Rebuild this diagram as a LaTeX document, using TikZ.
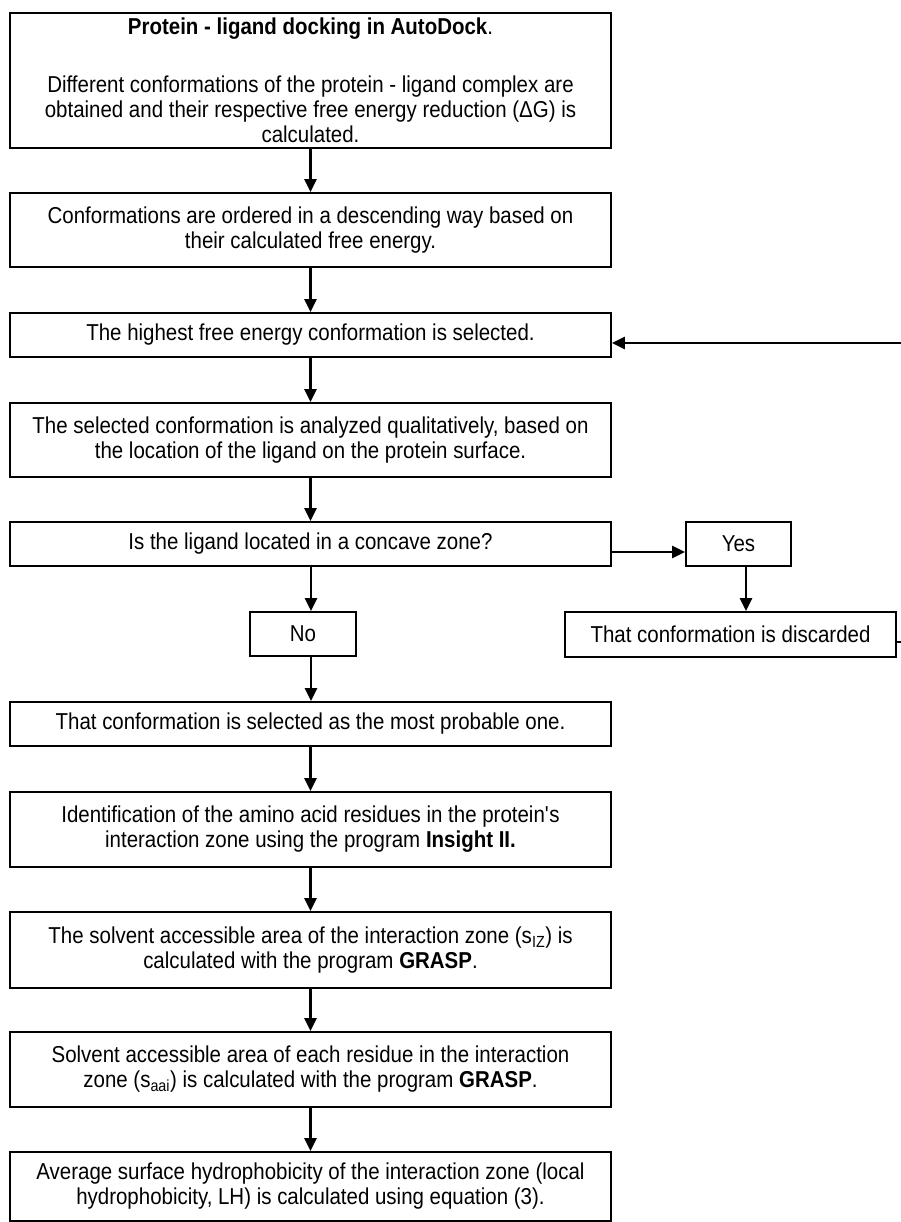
\documentclass[tikz,border=0pt]{standalone}
\usepackage{fontspec}
\setmainfont{Liberation Sans}[FakeStretch=0.89]
\usetikzlibrary{arrows.meta}
\begin{document}
\begin{tikzpicture}[x=1pt,y=-1pt,
  box/.style={draw, line width=1.8pt, align=center, inner sep=0pt,
    font=\fontsize{23}{25}\selectfont, minimum width=601pt},
  arr/.style={line width=2.8pt, -{Triangle[length=13pt,width=12pt]}}]
\useasboundingbox (0,0) rectangle (901,1222);
\fill[white] (0,0) rectangle (901,1222);
\coordinate (ax) at (311,0);
\coordinate (yy) at (0,552);
\coordinate (dx) at (746,0);
\coordinate (ly) at (0,343);
\coordinate (r1) at (908,642);
\coordinate (r2) at (908,343);

\node[box, minimum height=135pt] (b1) at (310.5,80.5)
  {\textbf{Protein - ligand docking in AutoDock}.\\[33pt]
   Different conformations of the protein - ligand complex are\\
   obtained and their respective free energy reduction (ΔG) is\\
   calculated.};
\node[box, minimum height=74pt] (b2) at (310.5,230)
  {Conformations are ordered in a descending way based on\\
   their calculated free energy.};
\node[box, minimum height=44pt] (b3) at (310.5,335)
  {The highest free energy conformation is selected.};
\node[box, minimum height=74pt] (b4) at (310.5,440)
  {The selected conformation is analyzed qualitatively, based on\\
   the location of the ligand on the protein surface.};
\node[box, minimum height=44pt] (b5) at (310.5,544)
  {Is the ligand located in a concave zone?};
\node[box, minimum width=105pt, minimum height=44pt] (yes) at (738.5,544) {Yes};
\node[box, minimum width=106pt, minimum height=44pt] (no) at (303,634) {No};
\node[box, minimum width=331pt, minimum height=45pt] (disc) at (730.5,634.5)
  {That conformation is discarded};
\node[box, minimum height=44pt] (b6) at (310.5,724)
  {That conformation is selected as the most probable one.};
\node[box, minimum height=75pt] (b7) at (310.5,829.5)
  {Identification of the amino acid residues in the protein\textquotesingle s\\
   interaction zone using the program \textbf{Insight II.}};
\node[box, minimum height=76pt] (b8) at (310.5,950)
  {The solvent accessible area of the interaction zone (s\textsubscript{IZ}) is\\
   calculated with the program \textbf{GRASP}.};
\node[box, minimum height=75pt] (b9) at (310.5,1069.5)
  {Solvent accessible area of each residue in the interaction\\
   zone (s\textsubscript{aai}) is calculated with the program \textbf{GRASP}.};
\node[box, minimum height=69pt] (b10) at (310.5,1186.5)
  {Average surface hydrophobicity of the interaction zone (local\\
   hydrophobicity, LH) is calculated using equation (3).};

\draw[arr] (b1.south) -- (b2.north);
\draw[arr] (b2.south) -- (b3.north);
\draw[arr] (b3.south) -- (b4.north);
\draw[arr] (b4.south) -- (b5.north);
\draw[arr] (b5.south -| ax) -- (no.north -| ax);
\draw[arr] (b5.east |- yy) -- (yes.west |- yy);
\draw[arr] (yes.south -| dx) -- (disc.north -| dx);
\draw[arr] (no.south -| ax) -- (b6.north -| ax);
\draw[arr] (b6.south) -- (b7.north);
\draw[arr] (b7.south) -- (b8.north);
\draw[arr] (b8.south) -- (b9.north);
\draw[arr] (b9.south) -- (b10.north);
\draw[arr] (disc.east |- r1) -- (r1) -- (r2) -- (b3.east |- ly);
\end{tikzpicture}
\end{document}
